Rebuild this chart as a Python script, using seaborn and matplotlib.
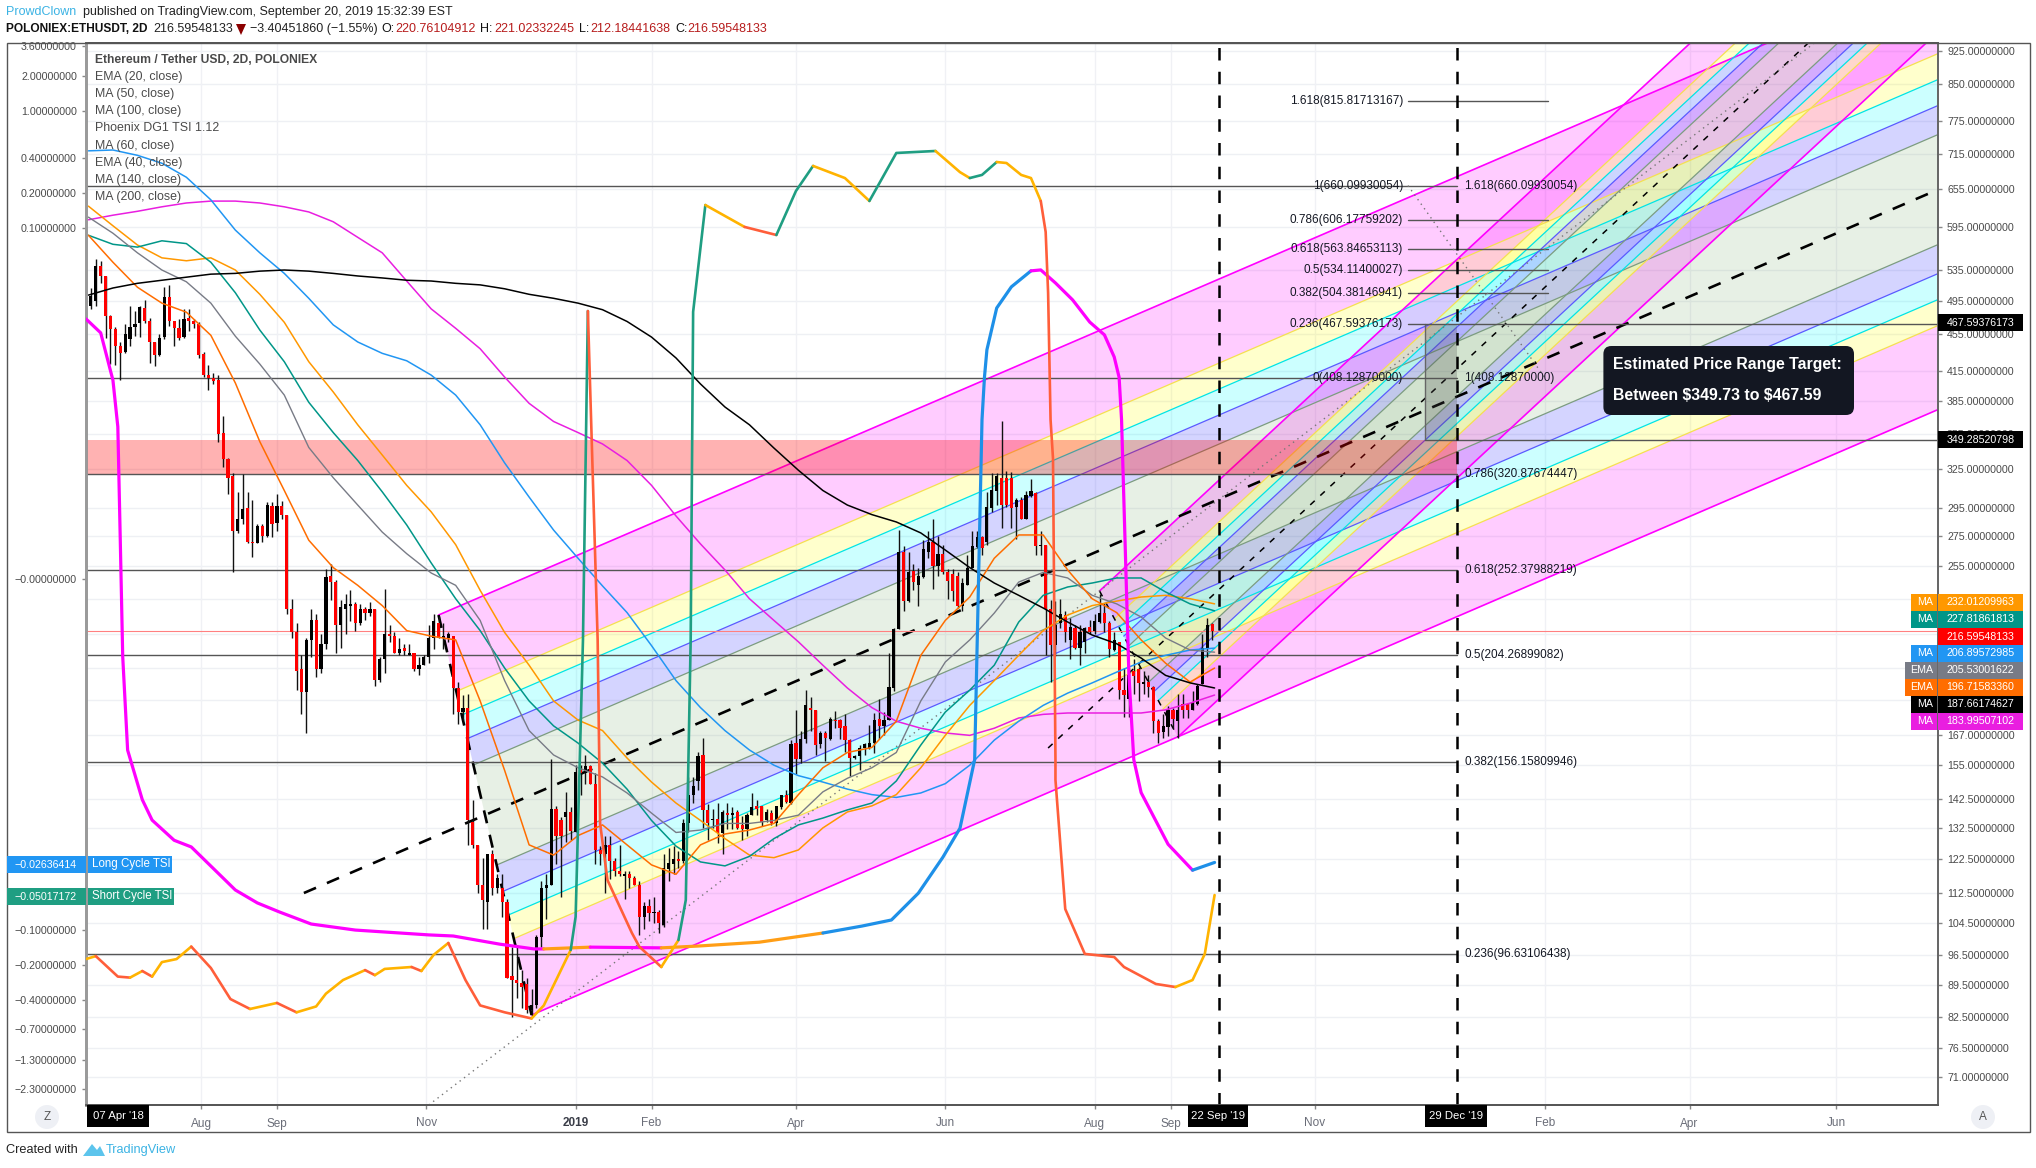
import numpy as np
import pandas as pd
import matplotlib
matplotlib.use("Agg")
import matplotlib.pyplot as plt
import matplotlib.dates as mdates
from matplotlib.patches import Rectangle, Ellipse, Polygon, FancyBboxPatch
from matplotlib.ticker import FixedLocator, FixedFormatter, NullLocator
from matplotlib.transforms import IdentityTransform
import seaborn as sns

W, H = 2036, 1168
FONT = ["Liberation Sans", "DejaVu Sans"]

# candles, 2D bars, last one on 2019-09-18
opens = [488,495,540,526,476,461,442,435,450,463, 468,486,471,446,432,452,500,470,462,452,
         474,471,467,433,411,408,406,356,333,319, 278,287,295,271,270,282,275,296,284,296,
         290,229,216,197,186,212,223,197,210,249, 245,220,229,231,232,221,229,227,229,192,
         202,215,214,205,208,204,205,197,199,203, 213,221,213,213,214,188,177,179,134.6,127,
         115,110,124,114,114,110,91.4,90.6,90,89.7, 84,85,101,114,115,139,135,136,138,131,
         153,152,154.5,148,125.5,124,127,122,119,117.5, 118,117,115,106,109,107,107.5,104,119.5,121,
         122.5,122,134,144,149,159,138.5,135,135.5,130.7, 137.5,137,138,133.5,132,137,140,140,135,137.5,
         134,139.5,144,141,164,157.5,165.5,179,178,163.5, 168,165.5,173.5,173.5,171,165,158,158.5,162,162,
         164,174,171,173.5,188,218,264,233.5,252,243, 248,264,271,255,263,251,250,249,231,243.5,
         254,267.5,274,271,295,307.5,318,318,318,295.5, 301,287,304,306,268,269,229,209.5,221,225.5,
         212,218.5,207.5,211,219,217,221.5,226.5,221,206.5, 211,187,183,196,197,190,191,188.5,173.3,168.5,
         170.5,178,173,180.5,180.5,178,180.5,190,208,220.76]
closes = [501,540,526,476,461,442,434,455,463,467, 487,471,446,432,451,500,470,462,451,473,
          470,467,432,411,408,405,355,333,318,278, 287,294,271,270,282,275,297,283,296,290,
          229,216,196,186,212,223,197,210,248,245, 220,230,232,232,221,229,227,229,192,202,
          215,214,205,207,206,205,197,199,203,213, 222,213,214,215,188,177,179,135,127,115,
          110.6,124,114,117,110,91,90.6,90,89,84, 85,101,114,115,139,130,130,138,131.5,152.5,
          152,154.5,148,125.5,124,127,122,119,118,118, 117,115,106,109,107,107.5,104.5,120,121.5,122.5,
          122,134,144,147,158.5,138.5,134,135.5,130.7,138, 137,137.5,132.5,132,137,139.5,139,134.5,138,134,
          140,144,141.5,163.5,157.5,165.5,180,178,163,168, 166,174,173,170,165,158,158.5,162,163.5,164,
          173.5,171,173.5,188.5,218,264,233.5,251,245,249, 266,271,255,263,251,245.5,239.5,231,244.5,254,
          268,274,267,295.5,308.5,319,297,297,295,301, 287,304.6,307.5,268,268.5,229,209.5,220,226,216.5,
          219,207.5,216,218.5,216.5,222,226.5,221,207,212, 187,184.5,194.4,193.5,190.5,190.7,188.5,173,168,171,
          178,174,178,178,178,181,189,207.8,220,216.6]
highs = [511,549,546,526,478,463,446,467,488,483, 488,496,474,447,455,512,515,471,473,485,
         485,473,469,435,422,413,411,371,334,322, 307,321,307,301,283,283,299,299,305,300,
         290,235,221,204,213,229,226,215,253,256, 246,234,238,240,233,232,230,233,229,203,
         241,220,216,213,210,210,205,203,204,220, 226,225,221,216,214,191,184.5,185,142,127,
         123,124,125.5,118,118,111,98.5,99,93,91, 88.5,101.5,116,118,157.5,140,136,145,139.5,155,
         155,159,155,152,126.5,130,130,123,127,119, 119,117.6,116,110,111,111.5,108,124,126,126.5,
         125,135.5,150.5,150.5,160,166,140.5,139,141,138.5, 141,139.5,138.5,136.5,137.5,144.5,142,140,139,138.5,
         140,144,145.5,165,178,169,187,184,178,169, 169,175,177.5,174,176,165.5,159,163,164,171.5,
         176.5,183,177,205,218.5,279,268,264,256,254, 272,278,287,275,269,253,253,251,247.5,262,
         278,278,275,307,322,322,366,323,322.5,302, 303,308,317,306.5,278,269,234,233.5,235,228,
         224,220,220,219,223,226,238,232.5,222,216.5, 211,197.6,197.6,202,198,196,194,189,174,176,
         179.7,179,185,185,181,186.5,190,215,224,221.03]
lows = [485,488,518,451,423,421,406,434,442,453, 452,468,424,420,431,450,465,442,449,451,
        459,462,429,409,396,402,348,327,305,251, 277,283,270,261,270,271,274,274,278,287,
        226,213,187,176,168,203,193,195,207,234, 205,208,215,222,217,220,223,225,189,191,
        195,211,205,204,204,204,196,194,199,200, 207,213,207,211,176,172,173.5,127,126,112.5,
        103,103,112,112.5,106,91,82.5,86.5,84.5,83.4, 82.5,84.5,98.5,105.5,115,121,111.5,128,128.6,131,
        144,148,148,121,120.7,112.7,116.5,117.6,117.6,111, 114,115,101.5,103,105,104.5,102,103.5,116,118,
        120,121.5,131,141,145.5,132.5,128.6,132.5,127.5,124, 132,132,132,128.6,130,137,137,133,134.5,133.5,
        133,139,141,140.5,151.5,156,164,169,159,162, 156.5,165,170,165.5,160,151,157.5,153,159,161.5,
        159.7,165.5,167,173.5,186.5,218,228,233,240,231, 247.5,260,241,248.5,250,235,233.5,229.7,228,243,
        254,267,262,269,292,297,280.5,295.5,280.5,273, 286.5,286.5,303,262,262,204,191,203.5,218.5,211,
        202,207,199,205,215,215,221,216,203,206, 183,175,175,185,182,185,184,168,164,166,
        166.7,170,166,174.5,174.5,178,180,190,203,212.18]

# moving averages, read every 10 days
ma_start = "2018-06-16"
ma200 = [606,613,619,626,632,635,635,632,626,618,603,580,558,520,485,462,439,409,383,366,356,346,332,312,289,269.5,
         252.5,235,222.6,211,199,188,179,173,170,168,167,170,174.4,176,176.6,176.6,176.6,176.6,178,181,184.7]
ma100 = [720,721.5,712,698,674,637,590.6,558,530,498,466,446.5,434,426,411,391,363,330,303,279,260,242.6,227,209,
         191.5,179,169,161,155,151,148.6,146,144,143,144.6,148,155,165,173,180,185.6,190.4,195.6,200.6,204,206.7,207.7]
ma140 = [627,597,569,551,547,551,534.5,503,469,425,394,363,336.6,312,292,269,240,216,199,182,173.5,169,157.8,148.6,
         141,135,129,123.8,123,125.4,132.5,137.9,140,144,154,167,180,191.5,204,217,225.6,231,233.6,236,237,235,232]
ma50 = [583,570,566,575,571,545,505,460,425,384,356,332,307,282.6,257,235,217,197.6,182,171,163.8,155.8,146,135,
        126.6,121.7,120.5,123.4,129,133.5,135.8,138.6,141,149,163,177,187,199,221.7,237,242,244.4,247.5,247.5,239,232,228]
ema40 = [610,586,558,534.5,519,492,453,422.5,391,343,318,297,277.6,263,250.6,243,222.6,191.5,169,159,154,150.5,144.6,
         137.5,131,131.8,134,134,135,136.8,145,150,154,160,182,200.6,212,226.7,245,251,247.5,237,232,224.5,213,206.7,205.6]
ema20 = [583,545,512,492,481,454,403,348,308,272,254,243,231,217,214,212,182,153,127,123.8,130,133.5,127,120.8,118,
         127,130.5,131.8,134,144,154,160,162,173,204,222.6,236,260,275.6,275.6,252.5,235,227,212,200,190.8,197.6]
ma60 = [502,511,517,521,525,529,530,533,534.5,533,530,526.6,524,521,520,517,515,510,503,498,492,484,470,452,429,402,
        379.5,363,342.5,324,308,297,290,284.7,277,265.4,254,244.4,237,229.6,221.7,214.6,210,202.6,194,190.4,188]

# Phoenix TSI, on the left scale
long_dates = ["2018-06-15","2018-06-21","2018-06-26","2018-06-28","2018-06-29","2018-06-30","2018-07-02","2018-07-08",
              "2018-07-12","2018-07-21","2018-07-28","2018-08-15","2018-08-24","2018-09-02","2018-09-15","2018-10-03",
              "2018-11-02","2018-11-12","2018-12-01","2018-12-15","2018-12-19","2019-01-07","2019-02-05","2019-02-20",
              "2019-03-17","2019-04-12","2019-04-28","2019-05-10","2019-05-21","2019-05-31","2019-06-07","2019-06-13",
              "2019-06-16","2019-06-17","2019-06-18","2019-06-22","2019-06-28","2019-07-06","2019-07-10","2019-07-16",
              "2019-07-23","2019-07-30","2019-08-05","2019-08-09","2019-08-11","2019-08-12","2019-08-15","2019-08-17",
              "2019-08-20","2019-08-31","2019-09-10","2019-09-19"]
long_tsi = [.0166,.0126,.0049,.0019,.000115,-.00036,-.0028,-.0076,-.0114,-.017,-.0194,-.0454,-.0586,-.07,-.0888,-.1,
            -.11,-.1124,-.132,-.145,-.145,-.14,-.142,-.137,-.127,-.106,-.0924,-.082,-.0483,-.0238,-.0134,-.0034,
            .0022,.0052,.009,.0206,.0313,.0429,.0437,.0338,.0242,.0156,.0121,.0078,.0052,.0022,-.00056,-.0034,
            -.0066,-.0184,-.0307,-.02636]
long_segments = ["m"]*20 + ["o", "m"] + ["o"]*3 + ["b"]*12 + ["m"]*13 + ["b"]
short_dates = ["2018-06-15","2018-06-19","2018-06-28","2018-07-03","2018-07-08","2018-07-12","2018-07-16","2018-07-22",
               "2018-07-28","2018-08-05","2018-08-13","2018-08-21","2018-09-01","2018-09-09","2018-09-17","2018-09-21",
               "2018-09-28","2018-10-07","2018-10-11","2018-10-15","2018-10-26","2018-10-30","2018-11-04","2018-11-10",
               "2018-11-17","2018-11-23","2018-12-03","2018-12-14","2018-12-19","2018-12-30","2019-01-01","2019-01-04",
               "2019-01-06","2019-01-10","2019-01-11","2019-01-14","2019-01-24","2019-01-27","2019-02-05","2019-02-12",
               "2019-02-15","2019-02-17","2019-02-18","2019-02-23","2019-03-11","2019-03-24","2019-04-01","2019-04-08",
               "2019-04-21","2019-05-01","2019-05-12","2019-05-28","2019-06-07","2019-06-11","2019-06-16","2019-06-22",
               "2019-06-26","2019-07-02","2019-07-06","2019-07-10","2019-07-12","2019-07-13","2019-07-14","2019-07-15",
               "2019-07-16","2019-07-16","2019-07-20","2019-07-28","2019-08-09","2019-08-13","2019-08-26","2019-09-03",
               "2019-09-10","2019-09-15","2019-09-19"]
short_tsi = [-.177,-.167,-.25,-.255,-.224,-.25,-.188,-.177,-.1385,-.211,-.389,-.473,-.42,-.505,-.45,-.35,
             -.2675,-.22,-.243,-.215,-.207,-.224,-.163,-.129,-.2675,-.441,-.505,-.57,-.441,-.148,-.077,-.000232,
             .0194,-.000232,-.0122,-.0373,-.106,-.1385,-.207,-.1217,-.0553,-.000232,.0191,.157,.102,.087,.207,.339,
             .267,.17,.4375,.455,.30,.267,.284,.366,.359,.284,.267,.17,.0924,.0278,.0022,.00097,-.0034,-.0051,
             -.0661,-.16,-.17,-.207,-.289,-.307,-.2675,-.16,-.05017]

# fib levels
fib_left = [("1(660.09930054)", 660.0993), ("0(408.12870000)", 408.1287)]
fib_upper = [("1.618(815.81713167)", 815.81713), ("0.786(606.17759202)", 606.17759),
             ("0.618(563.84653113)", 563.84653), ("0.5(534.11400027)", 534.114),
             ("0.382(504.38146941)", 504.38147), ("0.236(467.59376173)", 467.59376)]
fib_right = [("1.618(660.09930054)", 660.0993), ("1(408.12870000)", 408.1287),
             ("0.786(320.87674447)", 320.87674), ("0.618(252.37988219)", 252.37988),
             ("0.5(204.26899082)", 204.26899), ("0.382(156.15809946)", 156.1581),
             ("0.236(96.63106438)", 96.63106)]

# pitchfork anchors (date, price)
fork1 = [("2018-09-12", 112.6), ("2018-11-06", 225.6), ("2018-12-14", 83.0)]
fork2 = [("2019-07-13", 161.8), ("2019-08-03", 239.6), ("2019-09-04", 166.3)]
levels = [0.25, 0.382, 0.5, 0.618, 1.0]

price_ticks = [925,850,775,715,655,595,535,495,455,415,385,355,325,295,275,255,235,215,197.5,182.5,
               167,155,142.5,132.5,122.5,112.5,104.5,96.5,89.5,82.5,76.5,71]
tsi_ticks = [3.6,2,1,.4,.2,.1,0,-.1,-.2,-.4,-.7,-1.3,-2.3]
tsi_labels = ["3.60000000","2.00000000","1.00000000","0.40000000","0.20000000","0.10000000","−0.00000000",
              "−0.10000000","−0.20000000","−0.40000000","−0.70000000","−1.30000000","−2.30000000"]
month_ticks = ["2018-08-01","2018-09-01","2018-11-01","2019-01-01","2019-02-01","2019-04-01","2019-06-01",
               "2019-08-01","2019-09-01","2019-10-30","2020-02-01","2020-03-31","2020-05-30"]
month_labels = ["Aug","Sep","Nov","2019","Feb","Apr","Jun","Aug","Sep","Nov","Feb","Apr","Jun"]
legend_lines = ["EMA (20, close)","MA (50, close)","MA (100, close)","Phoenix DG1 TSI 1.12","MA (60, close)",
                "EMA (40, close)","MA (140, close)","MA (200, close)"]


def num(d):
    return mdates.date2num(pd.Timestamp(d))


def px_box(fig, x0, y0, x1, y1, color, **kw):
    fig.add_artist(Rectangle((x0/W, 1-y1/H), (x1-x0)/W, (y1-y0)/H, transform=fig.transFigure,
                             facecolor=color, edgecolor="none", **kw))


def px_text(fig, x, y, s, size=8, color="#131722", ha="left", weight="normal"):
    fig.text(x/W, 1-y/H, s, fontsize=size, color=color, ha=ha, va="center", fontweight=weight, family=FONT)


def draw_fork(ax, anchors, x_end, median_lw, outer_lw, median_dash):
    ax_, bx, cx = [num(a[0]) for a in anchors]
    ay, by, cy = [np.log(a[1]) for a in anchors]
    mx, my = (bx+cx)/2, (by+cy)/2
    slope = (my-ay)/(mx-ax_)

    def edge(t):
        x0, y0 = mx+t*(cx-mx), my+t*(cy-my)
        return [x0, x_end], [np.exp(y0), np.exp(y0+slope*(x_end-x0))]

    def band(t0, t1, color, alpha):
        xa, ya = edge(t0)
        xb, yb = edge(t1)
        ax.add_patch(Polygon(list(zip(xa, ya))+list(zip(xb[::-1], yb[::-1])), closed=True,
                             facecolor=color, alpha=alpha, edgecolor="none", zorder=1))

    spec = [(0.25, 0.382, "#3c3cff", .22), (0.382, 0.5, "#00ffff", .2), (0.5, 0.618, "#ffff00", .2),
            (0.618, 1.0, "#ff00ff", .2)]
    band(-0.25, 0.25, "#4c8c3c", .13)
    for t0, t1, c, a in spec:
        band(t0, t1, c, a)
        band(-t0, -t1, c, a)
    line_cols = {0.25: "#7c9c80", 0.382: "#5a5aff", 0.5: "#00e5e5", 0.618: "#f5e050", 1.0: "#ff00ff"}
    for t in levels:
        for s in (-1, 1):
            xs, ys = edge(s*t)
            ax.plot(xs, ys, color=line_cols[t], lw=outer_lw if t == 1 else .9, zorder=2)
    ax.plot([bx, cx], [anchors[1][1], anchors[2][1]], color="black", lw=median_lw, dashes=median_dash, zorder=3)
    xs = [ax_, x_end]
    ax.plot(xs, [anchors[0][1], np.exp(ay+slope*(x_end-ax_))], color="black", lw=median_lw,
            dashes=median_dash, zorder=3)


def coloured_runs(ax, xs, ys, colours, lw):
    start = 0
    for i in range(1, len(colours)+1):
        if i == len(colours) or colours[i] != colours[start]:
            sns.lineplot(x=xs[start:i+1], y=ys[start:i+1], ax=ax, color=colours[start], lw=lw,
                         estimator=None, sort=False, legend=False, zorder=5)
            start = i


def main():
    sns.set_theme(style="white", rc={"font.family": FONT})
    fig = plt.figure(figsize=(W/100, H/100), dpi=100, facecolor="white")
    ax = fig.add_axes([86/W, 1-1105/H, (1938-86)/W, (1105-43)/H])
    ax.set_yscale("log")
    ax.set_ylim(66.28, 942.8)
    x0, x1 = num("2018-06-15"), num("2020-07-10 12:00")
    ax.set_xlim(x0, x1)
    ax.set_axisbelow(True)

    dec29, sep22 = num("2019-12-27"), num("2019-09-21")
    fork_end = x1+60

    # grid
    for t in price_ticks:
        ax.axhline(t, color="#eef0f4", lw=1, zorder=0)
    for m in month_ticks:
        ax.axvline(num(m), color="#f0f1f5", lw=1, zorder=0)

    draw_fork(ax, fork1, fork_end, 1.9, 1.2, (5, 4.5))
    draw_fork(ax, fork2, fork_end, 1.1, 1.2, (4, 5))

    # fib boxes and levels
    ax.fill_between([x0, dec29], 320.87674, 349.28521, color="#ff0000", alpha=.3, lw=0, zorder=3)
    rect_x = num("2019-12-14")
    ax.fill_between([rect_x, dec29], 349.28521, 467.59376, color="#4a4a4a", alpha=.25, lw=0, zorder=3)
    ax.plot([rect_x, rect_x], [349.28521, 467.59376], color="#666666", lw=1, zorder=3)
    for _, p in fib_right[1:] + fib_left[:1]:
        ax.plot([x0, dec29], [p, p], color="#555555", lw=1, zorder=3)
    up0, up1 = num("2019-12-07"), num("2020-02-02")
    for _, p in fib_upper[:-1]:
        ax.plot([up0, up1], [p, p], color="#555555", lw=1, zorder=3)
    ax.plot([up0, x1], [467.59376, 467.59376], color="#555555", lw=1, zorder=3)
    ax.plot([rect_x, x1], [349.28521, 349.28521], color="#555555", lw=1, zorder=3)
    ax.axhline(216.59548, color="#ff8080", lw=.8, zorder=3)

    left_x, right_x = num("2019-12-05"), num("2019-12-30")
    for s, p in fib_left + fib_upper:
        ax.text(left_x, p, s, ha="right", va="center", fontsize=8.5, color="#131722", zorder=6, family=FONT)
    for s, p in fib_right:
        ax.text(right_x, p, s, ha="left", va="center", fontsize=8.5, color="#131722", zorder=6, family=FONT)

    # dotted trend lines
    ax.plot([num("2018-11-02"), num("2020-05-21")], [66.28, 942.8], color="#777777", lw=1, dashes=(1, 3), zorder=3)
    ax.plot([up0, num("2020-02-01")], [660.0993, 408.1287], color="#777777", lw=1, dashes=(1, 3), zorder=3)

    # candles
    df = pd.DataFrame({"open": opens, "high": highs, "low": lows, "close": closes})
    df["x"] = [num("2019-09-18")-2*(len(df)-1-i) for i in range(len(df))]
    df["colour"] = np.where(df["close"] >= df["open"], "#000000", "#ff0000")
    ax.vlines(df["x"], df["low"], df["high"], colors="#111111", lw=1, zorder=4)
    ax.bar(df["x"], (df["open"]-df["close"]).abs().clip(lower=.4), bottom=df[["open", "close"]].min(axis=1),
           width=1.3, color=df["colour"], lw=0, zorder=4)

    # moving averages
    ma_x = [num(ma_start)+10*i for i in range(len(ma200))]
    for vals, col, lw in [(ma200, "#e91ee0", 1.1), (ma100, "#2196f3", 1.1), (ma140, "#ff9800", 1.1),
                          (ma50, "#009688", 1.1), (ema40, "#787b86", 1.0), (ema20, "#ff6d00", 1.1),
                          (ma60, "#000000", 1.1)]:
        sns.lineplot(x=ma_x, y=vals, ax=ax, color=col, lw=lw, legend=False, zorder=5)

    # vertical date lines
    ax.plot([sep22, sep22], [66.28, 942.8], color="black", lw=1.8, dashes=(5, 4.5), zorder=6)
    ax.plot([dec29, dec29], [66.28, 942.8], color="black", lw=1.8, dashes=(5, 4.5), zorder=6)

    ax.set_xticks([num(m) for m in month_ticks])
    ax.set_xticklabels(month_labels)
    ax.tick_params(axis="x", bottom=True, length=3, width=1, color="#888888", labelsize=8.5, labelcolor="#6a6d78", pad=6)
    ax.get_xticklabels()[3].set_fontweight("bold")
    ax.get_xticklabels()[3].set_color("#3a3d48")
    ax.set_xlabel("")
    ax.set_ylabel("")

    # TSI pane shares the area, own scale on the left
    ax2 = ax.twinx()
    ax2.patch.set_visible(False)

    def tsi_fwd(v):
        v = np.asarray(v, dtype=float)
        return np.sign(v)*np.log10(1+np.abs(v)/1e-4)

    def tsi_inv(u):
        u = np.asarray(u, dtype=float)
        return np.sign(u)*1e-4*(10**np.abs(u)-1)

    ax2.set_yscale("function", functions=(tsi_fwd, tsi_inv))
    ax2.set_ylim(-3.13, 3.81)
    colour_map = {"m": "#ff00ff", "o": "#ff9e16", "b": "#1e90e8"}
    lx = [num(d) for d in long_dates]
    coloured_runs(ax2, lx, long_tsi, [colour_map[c] for c in long_segments], 2.3)
    sx = [num(d) for d in short_dates]
    short_cols = []
    for a, b in zip(short_tsi[:-1], short_tsi[1:]):
        if b > a:
            short_cols.append("#1f9e82" if a > -.15 else "#ffb300")
        elif b > .1:
            short_cols.append("#ffb300")
        else:
            short_cols.append("#ff5e3a")
    coloured_runs(ax2, sx, short_tsi, short_cols, 1.9)
    ax2.set_xlim(x0, x1)

    # twinx moves the price axis, so set both sides here
    ax.yaxis.tick_right()
    ax.yaxis.set_major_locator(FixedLocator(price_ticks))
    ax.yaxis.set_minor_locator(NullLocator())
    hidden = {235, 215, 197.5, 182.5}
    ax.yaxis.set_major_formatter(FixedFormatter(["" if t in hidden else f"{t:.8f}" for t in price_ticks]))
    ax.tick_params(axis="y", which="major", right=True, left=False, length=3, width=1, color="#888888",
                   labelsize=7.7, labelcolor="#4a4a4a", pad=3.5)
    ax2.yaxis.tick_left()
    ax2.yaxis.set_major_locator(FixedLocator(tsi_ticks))
    ax2.yaxis.set_minor_locator(NullLocator())
    ax2.yaxis.set_major_formatter(FixedFormatter(tsi_labels))
    ax2.tick_params(axis="y", left=True, right=False, length=3, width=1, color="#888888", labelsize=7.7,
                    labelcolor="#4a4a4a", pad=3.5)
    ax2.set_ylabel("")

    for a in (ax, ax2):
        for side in ("top", "bottom"):
            a.spines[side].set_color("#555555")
        a.spines["left"].set_color("#9a9a9a")
        a.spines["left"].set_linewidth(2)
        a.spines["right"].set_color("#666666")

    # frame
    fig.add_artist(Rectangle((6.5/W, 1-1132/H), (2029.5-6.5)/W, (1132-43)/H, transform=fig.transFigure,
                             fill=False, edgecolor="#555555", lw=1))

    # header
    px_text(fig, 6, 12, "ProwdClown", 9, "#3bb3e4")
    px_text(fig, 83, 12, "published on TradingView.com, September 20, 2019 15:32:39 EST", 9, "#222222")
    px_text(fig, 6, 29, "POLONIEX:ETHUSDT, 2D", 8.6, "#111111", weight="bold")
    px_text(fig, 153, 29, "216.59548133", 9, "#222222")
    fig.add_artist(Polygon([(236/W, 1-24/H), (246/W, 1-24/H), (241/W, 1-35/H)], transform=fig.transFigure,
                           facecolor="#8b0000", edgecolor="none"))
    px_text(fig, 250, 29, "−3.40451860 (−1.55%)", 9, "#222222")
    for x, s, col in [(381, "O:", "#111111"), (395, "220.76104912", "#b71c1c"), (480, "H:", "#111111"),
                      (494, "221.02332245", "#b71c1c"), (579, "L:", "#111111"), (590, "212.18441638", "#b71c1c"),
                      (675, "C:", "#111111"), (687.5, "216.59548133", "#b71c1c")]:
        px_text(fig, x, 29, s, 9, col)

    # indicator list
    px_text(fig, 95, 60, "Ethereum / Tether USD, 2D, POLONIEX", 8.75, "#4a4a4a", weight="bold")
    for i, s in enumerate(legend_lines):
        px_text(fig, 95, 77+17*i+(1 if i > 3 else 0), s, 8.9, "#4a4a4a")

    # left tags
    for y0, lab, val, col, xr in [(856, "Long Cycle TSI", "−0.02636414", "#2196f3", 172),
                                  (888, "Short Cycle TSI", "−0.05017172", "#1f9e82", 174)]:
        px_box(fig, 6.5, y0, 86, y0+17, col)
        px_box(fig, 88, y0, xr, y0+17, col)
        px_text(fig, 77, y0+8.5, val, 7.7, "white", ha="right")
        px_text(fig, 92, y0+8.5, lab, 8.3, "white")

    # right tags
    tags = [(602, "MA", "232.01209963", "#ff9800"), (619, "MA", "227.81861813", "#009688"),
            (636.7, "", "216.59548133", "#ff0000"), (653.5, "MA", "206.89572985", "#2196f3"),
            (670, "EMA", "205.53001622", "#787b86"), (687, "EMA", "196.71583360", "#ff6d00"),
            (704, "MA", "187.66174627", "#000000"), (721, "MA", "183.99507102", "#e91ee0")]
    for y, kind, val, col in tags:
        if kind:
            left = 1910.6 if kind == "MA" else 1904.6
            px_box(fig, left, y-8.5, 1937, y+8.5, col)
            px_text(fig, 1933, y, kind, 7.7, "white", ha="right")
        px_box(fig, 1938, y-8.5, 2023.4, y+8.5, col)
        px_text(fig, 1946.7, y, val, 7.7, "white")
    for y, val in [(322.7, "467.59376173"), (439.7, "349.28520798")]:
        px_box(fig, 1938, y-8.5, 2023.4, y+8.5, "#000000")
        px_text(fig, 1946.7, y, val, 7.7, "white")

    # target note
    fig.add_artist(FancyBboxPatch((1603.4, H-415), 250.6, 69, boxstyle="round,pad=0,rounding_size=8",
                                  transform=IdentityTransform(), facecolor="#131722", edgecolor="none"))
    px_text(fig, 1613, 364, "Estimated Price Range Target:", 11.4, "white", weight="bold")
    px_text(fig, 1613, 396, "Between \\$349.73 to \\$467.59", 11.4, "white", weight="bold")

    # time axis badges
    for x0b, x1b, s in [(87, 149, "07 Apr '18"), (1188, 1248, "22 Sep '19"), (1425.4, 1487, "29 Dec '19")]:
        px_box(fig, x0b, 1105, x1b, 1127, "#000000")
        px_text(fig, (x0b+x1b)/2, 1116, s, 8.2, "white", ha="center")
    for x, s in [(47, "Z"), (1983, "A")]:
        fig.add_artist(Ellipse((x/W, 1-1117/H), 24/W, 24/H, transform=fig.transFigure,
                               facecolor="#eef0f5", edgecolor="none"))
        px_text(fig, x, 1117, s, 8.5, "#555555", ha="center")

    # footer
    px_text(fig, 6, 1150, "Created with", 9.2, "#222222")
    fig.add_artist(Polygon([(83/W, 1-1156/H), (92/W, 1-1144/H), (97/W, 1-1150/H), (100/W, 1-1146/H), (105/W, 1-1156/H)],
                           transform=fig.transFigure, facecolor="#5cc4ec", edgecolor="none"))
    px_text(fig, 106, 1150, "TradingView", 9.2, "#3bb3e4")

    fig.savefig("out.png", dpi=100, facecolor="white")
    plt.close(fig)


if __name__ == "__main__":
    main()
